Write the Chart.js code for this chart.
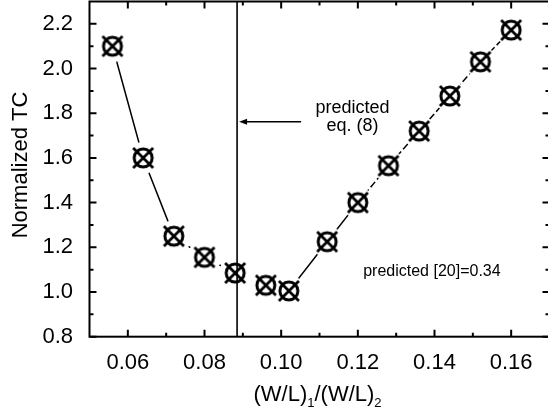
<!DOCTYPE html>
<html>
<head>
<meta charset="utf-8">
<script src="https://cdn.jsdelivr.net/npm/chart.js@4/dist/chart.umd.min.js"></script>
<style>
  html, body { margin: 0; padding: 0; background: #fff; overflow: hidden; }
  #wrap { width: 552px; height: 414px; }
</style>
</head>
<body>
<div id="wrap"><canvas id="tc-chart" width="552" height="414"></canvas></div>
<script>
// Width ratio sweep and measured normalized TC
const ratios = [0.056, 0.064, 0.072, 0.080, 0.088, 0.096, 0.102, 0.112, 0.120, 0.128, 0.136, 0.144, 0.152, 0.160];
const normTC = [2.10, 1.60, 1.25, 1.155, 1.085, 1.03, 1.005, 1.225, 1.40, 1.565, 1.72, 1.877, 2.03, 2.172];

// Axis ticks
const xTicks = [0.06, 0.08, 0.10, 0.12, 0.14, 0.16];
const xMinor = [0.07, 0.09, 0.11, 0.13, 0.15];
const yTicks = [0.8, 1.0, 1.2, 1.4, 1.6, 1.8, 2.0, 2.2];
const yMinor = [0.9, 1.1, 1.3, 1.5, 1.7, 1.9, 2.1];

// Ratio predicted by eq. (8)
const predictedX = 0.0885;

const FONT = "'Liberation Sans', Arial, sans-serif";

// white disc drawn under each marker so the line stops short of it
function makeHalo() {
  const c = document.createElement('canvas');
  c.width = 34; c.height = 34;
  const g = c.getContext('2d');
  g.fillStyle = '#fff';
  g.beginPath(); g.arc(17, 17, 16, 0, Math.PI * 2); g.fill();
  return c;
}

// circle-with-cross marker
function makeMarker() {
  const c = document.createElement('canvas');
  c.width = 30; c.height = 30;
  const g = c.getContext('2d');
  g.strokeStyle = '#000';
  g.lineWidth = 3;
  g.beginPath(); g.arc(15, 15, 9, 0, Math.PI * 2); g.stroke();
  g.lineWidth = 2.8;
  g.beginPath();
  g.moveTo(5, 5); g.lineTo(25, 25);
  g.moveTo(25, 5); g.lineTo(5, 25);
  g.stroke();
  return c;
}

// segment styles along the curve
function segDash(ctx) {
  const i = ctx.p0DataIndex;
  if (i >= 2 && i <= 4) return [2, 4];
  if (i >= 8) return [7, 3];
  return [];
}

// no edge padding for the first/last tick labels
function noEdgePadding(s) {
  s.paddingLeft = s.paddingRight = s.paddingTop = s.paddingBottom = 0;
}

// frame, inward ticks, marker line, notes and axis titles
const decorations = {
  id: 'decorations',
  afterDatasetsDraw(chart) {
    const { ctx, chartArea: a, scales: { x, y } } = chart;
    const px = x.getPixelForValue(predictedX);
    ctx.save();
    ctx.strokeStyle = '#000';
    ctx.lineWidth = 1.6;
    ctx.beginPath();
    ctx.moveTo(px, a.top);
    ctx.lineTo(px, a.bottom);
    ctx.stroke();

    // arrow pointing at the predicted ratio
    const ay = y.getPixelForValue(1.762);
    const tail = x.getPixelForValue(0.1052);
    const tip = px + 2;
    ctx.lineWidth = 1.3;
    ctx.beginPath();
    ctx.moveTo(tail, ay);
    ctx.lineTo(tip + 6, ay);
    ctx.stroke();
    ctx.fillStyle = '#000';
    ctx.beginPath();
    ctx.moveTo(tip, ay);
    ctx.lineTo(tip + 8, ay - 3);
    ctx.lineTo(tip + 8, ay + 3);
    ctx.closePath();
    ctx.fill();

    ctx.font = '18px ' + FONT;
    ctx.textAlign = 'center';
    ctx.textBaseline = 'alphabetic';
    const tx = x.getPixelForValue(0.1186);
    ctx.fillText('predicted', tx, y.getPixelForValue(1.80));
    ctx.fillText('eq. (8)', tx, y.getPixelForValue(1.7226));

    ctx.font = '16px ' + FONT;
    ctx.textAlign = 'left';
    ctx.textBaseline = 'middle';
    ctx.fillText('predicted [20]=0.34', x.getPixelForValue(0.1214), y.getPixelForValue(1.09));
    ctx.restore();
  },
  afterDraw(chart) {
    const { ctx, chartArea: a, scales: { x, y } } = chart;
    ctx.save();
    ctx.strokeStyle = '#000';
    ctx.lineWidth = 2;
    ctx.strokeRect(a.left, a.top, a.right - a.left, a.bottom - a.top);

    const tickX = (vals, len) => vals.forEach(v => {
      const p = x.getPixelForValue(v);
      ctx.moveTo(p, a.bottom); ctx.lineTo(p, a.bottom - len);
      ctx.moveTo(p, a.top); ctx.lineTo(p, a.top + len);
    });
    const tickY = (vals, len) => vals.forEach(v => {
      const p = y.getPixelForValue(v);
      ctx.moveTo(a.left, p); ctx.lineTo(a.left + len, p);
      ctx.moveTo(a.right, p); ctx.lineTo(a.right - len, p);
    });
    ctx.beginPath();
    tickX(xTicks, 7); tickX(xMinor, 4);
    tickY(yTicks, 7); tickY(yMinor, 4);
    ctx.stroke();

    // y title
    ctx.fillStyle = '#000';
    ctx.font = '22px ' + FONT;
    ctx.textAlign = 'center';
    ctx.textBaseline = 'alphabetic';
    ctx.translate(27, 165);
    ctx.rotate(-Math.PI / 2);
    ctx.fillText('Normalized TC', 0, 0);
    ctx.setTransform(1, 0, 0, 1, 0, 0);

    // x title with subscripts
    const parts = [['(W/L)', 0], ['1', 1], ['/(W/L)', 0], ['2', 1]];
    const mainFont = '22px ' + FONT, subFont = '13px ' + FONT;
    let w = 0;
    parts.forEach(([t, s]) => { ctx.font = s ? subFont : mainFont; w += ctx.measureText(t).width; });
    let cx = (a.left + a.right) / 2 - w / 2 - 2;
    ctx.textAlign = 'left';
    parts.forEach(([t, s]) => {
      ctx.font = s ? subFont : mainFont;
      ctx.fillText(t, cx, s ? 407 : 401);
      cx += ctx.measureText(t).width;
    });
    ctx.restore();
  }
};

const points = ratios.map((r, i) => ({ x: r, y: normTC[i] }));

const ctx = document.getElementById('tc-chart').getContext('2d');
new Chart(ctx, {
  type: 'scatter',
  data: {
    datasets: [{
      // symbols, drawn on top
      data: points,
      pointStyle: makeMarker(),
      pointRadius: 14,
      clip: false
    }, {
      // connecting line with gaps around the symbols
      data: points,
      showLine: true,
      borderColor: '#000',
      borderWidth: 1.5,
      pointStyle: makeHalo(),
      pointRadius: 16,
      clip: false,
      segment: { borderDash: segDash }
    }]
  },
  options: {
    responsive: false,
    animation: false,
    layout: { autoPadding: false, padding: { top: 1.5, right: 2.5, left: 0, bottom: 0 } },
    plugins: { legend: { display: false }, tooltip: { enabled: false } },
    scales: {
      x: {
        type: 'linear',
        min: 0.05, max: 0.17,
        grid: { display: false },
        border: { display: false },
        afterBuildTicks: s => { s.ticks = xTicks.map(v => ({ value: v })); },
        afterFit: s => { s.height = 77.3; noEdgePadding(s); },
        ticks: {
          color: '#000',
          font: { family: FONT, size: 22 },
          padding: 5,
          maxRotation: 0,
          autoSkip: false,
          callback: v => v.toFixed(2)
        }
      },
      y: {
        min: 0.8, max: 2.3,
        grid: { display: false },
        border: { display: false },
        afterBuildTicks: s => { s.ticks = yTicks.map(v => ({ value: v })); },
        afterFit: s => { s.width = 89.5; noEdgePadding(s); },
        ticks: {
          color: '#000',
          font: { family: FONT, size: 22 },
          padding: 8.5,
          autoSkip: false,
          callback: v => v.toFixed(1)
        }
      }
    }
  },
  plugins: [decorations]
});
</script>
</body>
</html>
